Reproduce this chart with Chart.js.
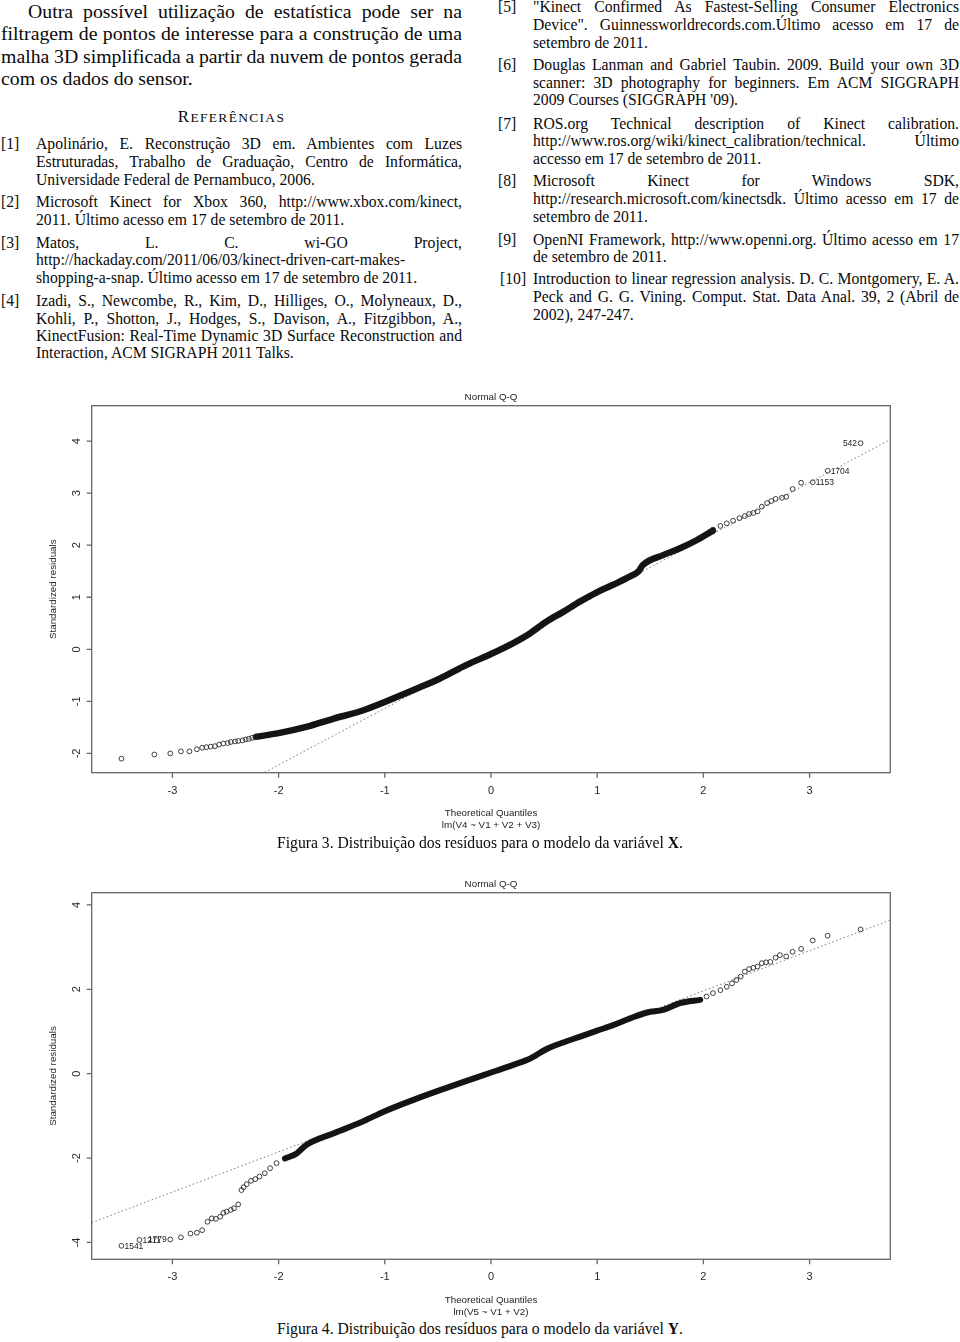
<!DOCTYPE html>
<html>
<head>
<meta charset="utf-8">
<script src="https://cdn.jsdelivr.net/npm/chart.js@4.4.1/dist/chart.umd.min.js"></script>
<style>
  html, body { margin: 0; padding: 0; background: #fff; }
  body { width: 960px; height: 1342px; position: relative; overflow: hidden; }
  .t { position: absolute; font-family: "Liberation Serif", "Times New Roman", serif; color: #0a0a0a; white-space: nowrap; }
  .p { font-size: 19.8px; line-height: 22px; height: 22px; }
  .r { font-size: 15.7px; line-height: 18px; height: 18px; }
  .j { text-align: justify; text-align-last: justify; word-spacing: -2px; }
  .lc { left: 36px; width: 426px; }
  .rc { left: 533px; width: 426px; }
  .cap { left: 0; width: 960px; text-align: center; font-size: 15.7px; line-height: 18px; }
  canvas { position: absolute; left: 0; }
</style>
</head>
<body>

<!-- coluna esquerda -->
<div class="t p j" style="left:28px;width:434px;top:0px">Outra possível utilização de estatística pode ser na</div>
<div class="t p j" style="left:1px;width:461px;top:22px">filtragem de pontos de interesse para a construção de uma</div>
<div class="t p j" style="left:1px;width:461px;top:45px">malha 3D simplificada a partir da nuvem de pontos gerada</div>
<div class="t p" style="left:1px;top:67px">com os dados do sensor.</div>

<div class="t" style="left:0;width:463px;text-align:center;top:107px;font-size:17px;line-height:20px;letter-spacing:1.3px">R<span style="font-size:13.5px">EFERÊNCIAS</span></div>

<div class="t r" style="left:1px;top:135px">[1]</div>
<div class="t r j lc" style="top:135px">Apolinário, E. Reconstrução 3D em. Ambientes com Luzes</div>
<div class="t r j lc" style="top:153px">Estruturadas, Trabalho de Graduação, Centro de Informática,</div>
<div class="t r lc" style="top:171px">Universidade Federal de Pernambuco, 2006.</div>

<div class="t r" style="left:1px;top:193px">[2]</div>
<div class="t r j lc" style="top:193px">Microsoft Kinect for Xbox 360, http://www.xbox.com/kinect,</div>
<div class="t r lc" style="top:211px">2011. Último acesso em 17 de setembro de 2011.</div>

<div class="t r" style="left:1px;top:233.5px">[3]</div>
<div class="t r j lc" style="top:233.5px">Matos, L. C. wi-GO Project,</div>
<div class="t r lc" style="top:250.5px">http://hackaday.com/2011/06/03/kinect-driven-cart-makes-</div>
<div class="t r lc" style="top:268.5px">shopping-a-snap. Último acesso em 17 de setembro de 2011.</div>

<div class="t r" style="left:1px;top:291.5px">[4]</div>
<div class="t r j lc" style="top:291.5px">Izadi, S., Newcombe, R., Kim, D., Hilliges, O., Molyneaux, D.,</div>
<div class="t r j lc" style="top:309.5px">Kohli, P., Shotton, J., Hodges, S., Davison, A., Fitzgibbon, A.,</div>
<div class="t r j lc" style="top:326.5px">KinectFusion: Real-Time Dynamic 3D Surface Reconstruction and</div>
<div class="t r lc" style="top:343.5px">Interaction, ACM SIGRAPH 2011 Talks.</div>

<!-- coluna direita -->
<div class="t r" style="left:498px;top:-2.5px">[5]</div>
<div class="t r j rc" style="top:-2.5px">"Kinect Confirmed As Fastest-Selling Consumer Electronics</div>
<div class="t r j rc" style="top:15.5px">Device". Guinnessworldrecords.com.Último acesso em 17 de</div>
<div class="t r rc" style="top:33.5px">setembro de 2011.</div>

<div class="t r" style="left:498px;top:56px">[6]</div>
<div class="t r j rc" style="top:56px">Douglas Lanman and Gabriel Taubin. 2009. Build your own 3D</div>
<div class="t r j rc" style="top:74px">scanner: 3D photography for beginners. Em ACM SIGGRAPH</div>
<div class="t r rc" style="top:91px">2009 Courses (SIGGRAPH '09).</div>

<div class="t r" style="left:498px;top:114.5px">[7]</div>
<div class="t r j rc" style="top:114.5px">ROS.org Technical description of Kinect calibration.</div>
<div class="t r j rc" style="top:132px">http://www.ros.org/wiki/kinect_calibration/technical. Último</div>
<div class="t r rc" style="top:149.5px">accesso em 17 de setembro de 2011.</div>

<div class="t r" style="left:498px;top:172px">[8]</div>
<div class="t r j rc" style="top:172px">Microsoft Kinect for Windows SDK,</div>
<div class="t r j rc" style="top:190px">http://research.microsoft.com/kinectsdk. Último acesso em 17 de</div>
<div class="t r rc" style="top:208px">setembro de 2011.</div>

<div class="t r" style="left:498px;top:230.5px">[9]</div>
<div class="t r j rc" style="top:230.5px">OpenNI Framework, http://www.openni.org. Último acesso em 17</div>
<div class="t r rc" style="top:248px">de setembro de 2011.</div>

<div class="t r" style="left:500px;top:270px">[10]</div>
<div class="t r j rc" style="top:270px">Introduction to linear regression analysis. D. C. Montgomery, E. A.</div>
<div class="t r j rc" style="top:288px">Peck and G. G. Vining. Comput. Stat. Data Anal. 39, 2 (Abril de</div>
<div class="t r rc" style="top:305.5px">2002), 247-247.</div>

<!-- figuras -->
<canvas id="qqX" width="960" height="450" style="top:385px"></canvas>
<div class="t cap" style="top:833.5px">Figura 3. Distribuição dos resíduos para o modelo da variável <b>X</b>.</div>

<canvas id="qqY" width="960" height="450" style="top:870px"></canvas>
<div class="t cap" style="top:1320px">Figura 4. Distribuição dos resíduos para o modelo da variável <b>Y</b>.</div>

<script>
// ---- dados ----
const xTicks = [-3, -2, -1, 0, 1, 2, 3];
const yTicksX = [-2, -1, 0, 1, 2, 3, 4];
const yTicksY = [-4, -2, 0, 2, 4];

// Figura 3: lm(V4 ~ V1 + V2 + V3)
// faixa densa de pontos (centro da nuvem)
const bandXx = [-2.21, -2.0, -1.74, -1.48, -1.23, -1.0, -0.73, -0.48, -0.23, 0, 0.21, 0.37, 0.52, 0.68, 0.84, 1.0, 1.15, 1.31, 1.39, 1.43, 1.62, 1.78, 1.94, 2.09];
const bandXy = [-1.68, -1.61, -1.49, -1.33, -1.19, -1.01, -0.78, -0.56, -0.30, -0.09, 0.12, 0.31, 0.53, 0.72, 0.92, 1.10, 1.24, 1.40, 1.50, 1.62, 1.81, 1.94, 2.10, 2.28];
// pontos isolados nas caudas
const tailXx = [-3.48, -3.17, -3.02, -2.92, -2.84, -2.77, -2.72, -2.68, -2.64, -2.60, -2.56, -2.52, -2.48, -2.45, -2.41, -2.38, -2.34, -2.31, -2.28, -2.25, -2.22,
                2.09, 2.16, 2.22, 2.28, 2.34, 2.39, 2.43, 2.47, 2.51, 2.55, 2.60, 2.64, 2.68, 2.74, 2.78, 2.84, 2.92, 3.03, 3.17, 3.48];
const tailXy = [-2.10, -2.02, -2.00, -1.96, -1.96, -1.92, -1.89, -1.88, -1.87, -1.86, -1.83, -1.81, -1.80, -1.78, -1.77, -1.76, -1.75, -1.73, -1.72, -1.70, -1.69,
                2.30, 2.37, 2.42, 2.47, 2.52, 2.56, 2.60, 2.62, 2.65, 2.74, 2.81, 2.85, 2.89, 2.91, 2.93, 3.08, 3.20, 3.21, 3.43, 3.96];
const idsX = [{ x: 3.48, y: 3.96, label: '542', side: 'left' }, { x: 3.17, y: 3.43, label: '1704', side: 'right' }, { x: 3.03, y: 3.21, label: '1153', side: 'right' }];
const lineXx = [-3.76, 3.76];
const lineXy = [-4.13, 4.03];

// Figura 4: lm(V5 ~ V1 + V2)
const bandYx = [-1.94, -1.83, -1.74, -1.48, -1.23, -1.0, -0.73, -0.48, -0.23, 0.05, 0.21, 0.37, 0.52, 0.68, 0.84, 1.0, 1.15, 1.31, 1.47, 1.62, 1.78, 1.97];
const bandYy = [-2.01, -1.89, -1.69, -1.41, -1.16, -0.89, -0.62, -0.39, -0.17, 0.07, 0.21, 0.36, 0.58, 0.74, 0.88, 1.02, 1.15, 1.31, 1.45, 1.51, 1.67, 1.75];
const tailYx = [-3.48, -3.31, -3.02, -2.92, -2.83, -2.77, -2.72, -2.67, -2.63, -2.59, -2.55, -2.52, -2.49, -2.45, -2.42, -2.38, -2.35, -2.33, -2.30, -2.26, -2.22, -2.18, -2.13, -2.08, -2.02,
                2.03, 2.09, 2.16, 2.22, 2.27, 2.31, 2.35, 2.39, 2.43, 2.47, 2.51, 2.55, 2.59, 2.63, 2.68, 2.72, 2.78, 2.84, 2.92, 3.03, 3.17, 3.48];
const tailYy = [-4.08, -3.94, -3.93, -3.88, -3.79, -3.77, -3.71, -3.51, -3.43, -3.44, -3.39, -3.30, -3.27, -3.23, -3.19, -3.10, -2.76, -2.69, -2.62, -2.54, -2.50, -2.44, -2.36, -2.24, -2.12,
                1.83, 1.91, 1.98, 2.06, 2.14, 2.22, 2.30, 2.42, 2.48, 2.51, 2.54, 2.62, 2.64, 2.65, 2.75, 2.81, 2.78, 2.89, 2.96, 3.16, 3.27, 3.42];
const idsY = [{ x: -3.48, y: -4.08, label: '1541', side: 'right' }, { x: -3.31, y: -3.94, label: '1211', side: 'right' }, { x: -3.02, y: -3.93, label: '1779', side: 'left' }];
const lineYx = [-3.76, 3.76];
const lineYy = [-3.53, 3.64];

const SANS = '"Liberation Sans", Arial, sans-serif';
const zip = (xs, ys) => xs.map((x, i) => ({ x, y: ys[i] }));

// moldura estilo R: caixa, marcas, rótulos e títulos
const rFrame = {
    id: 'rFrame',
    beforeDatasetsDraw(chart, args, opts) {
        const { ctx, chartArea: a, scales: { x, y } } = chart;
        ctx.save();
        ctx.strokeStyle = '#666';
        ctx.lineWidth = 1.3;
        ctx.strokeRect(a.left, a.top, a.right - a.left, a.bottom - a.top);

        ctx.beginPath();
        xTicks.forEach(v => {
            const px = x.getPixelForValue(v);
            ctx.moveTo(px, a.bottom); ctx.lineTo(px, a.bottom + 5);
        });
        opts.yTicks.forEach(v => {
            const py = y.getPixelForValue(v);
            ctx.moveTo(a.left, py); ctx.lineTo(a.left - 5, py);
        });
        ctx.stroke();

        ctx.fillStyle = '#2a2a2a';
        ctx.textAlign = 'center';
        ctx.textBaseline = 'middle';
        ctx.font = '11px ' + SANS;
        xTicks.forEach(v => ctx.fillText(String(v), x.getPixelForValue(v), a.bottom + 18));
        opts.yTicks.forEach(v => {
            ctx.save();
            ctx.translate(a.left - 14.5, y.getPixelForValue(v));
            ctx.rotate(-Math.PI / 2);
            ctx.fillText(String(v), 0, 0);
            ctx.restore();
        });

        ctx.fillStyle = '#1e1e1e';
        ctx.font = '9.8px ' + SANS;
        const cx = (a.left + a.right) / 2;
        ctx.fillText('Normal Q-Q', cx, a.top - 8);
        ctx.fillText('Theoretical Quantiles', cx, a.bottom + 41);
        ctx.fillText(opts.model, cx, a.bottom + 53);
        ctx.save();
        ctx.translate(a.left - 38.4, (a.top + a.bottom) / 2);
        ctx.rotate(-Math.PI / 2);
        ctx.fillText('Standardized residuals', 0, 0);
        ctx.restore();
        ctx.restore();
    },
    afterDatasetsDraw(chart, args, opts) {
        const { ctx, scales: { x, y } } = chart;
        ctx.save();
        ctx.fillStyle = '#222';
        ctx.font = '8.5px ' + SANS;
        ctx.textBaseline = 'middle';
        opts.ids.forEach(p => {
            const px = x.getPixelForValue(p.x);
            const py = y.getPixelForValue(p.y);
            ctx.textAlign = p.side === 'left' ? 'right' : 'left';
            ctx.fillText(p.label, p.side === 'left' ? px - 3.5 : px + 3, py + 0.5);
        });
        ctx.restore();
    }
};

function drawQQ(id, cfg) {
    const ctx = document.getElementById(id).getContext('2d');
    return new Chart(ctx, {
        type: 'scatter',
        data: {
            datasets: [
                {
                    type: 'scatter',
                    data: zip(cfg.tailX, cfg.tailY),
                    pointRadius: 2.4,
                    pointStyle: 'circle',
                    backgroundColor: 'rgba(0,0,0,0)',
                    borderColor: '#2a2a2a',
                    borderWidth: 0.9,
                    order: 1,
                },
                {
                    type: 'line',
                    data: zip(cfg.bandX, cfg.bandY),
                    borderColor: '#141414',
                    borderWidth: cfg.bandWidth,
                    borderCapStyle: 'round',
                    borderJoinStyle: 'round',
                    cubicInterpolationMode: 'monotone',
                    pointRadius: 0,
                    fill: false,
                    order: 2,
                },
                {
                    type: 'line',
                    data: zip(cfg.lineX, cfg.lineY),
                    borderColor: '#777',
                    borderWidth: 1,
                    borderDash: [1.5, 2.5],
                    pointRadius: 0,
                    fill: false,
                    clip: 0,
                    order: 3,
                },
            ],
        },
        options: {
            responsive: false,
            animation: false,
            events: [],
            layout: { padding: cfg.padding },
            plugins: {
                legend: { display: false },
                tooltip: { enabled: false },
                rFrame: { yTicks: cfg.yTicks, model: cfg.model, ids: cfg.ids },
            },
            scales: {
                x: { type: 'linear', display: false, min: -3.76, max: 3.76 },
                y: { type: 'linear', display: false, min: cfg.yMin, max: cfg.yMax },
            },
        },
        plugins: [rFrame],
    });
}

drawQQ('qqX', {
    bandX: bandXx, bandY: bandXy, tailX: tailXx, tailY: tailXy, lineX: lineXx, lineY: lineXy,
    ids: idsX, yTicks: yTicksX, yMin: -2.37, yMax: 4.68, bandWidth: 6.5,
    model: 'lm(V4 ~ V1 + V2 + V3)',
    padding: { left: 91.7, top: 20.7, right: 69.7, bottom: 62.3 },
});

drawQQ('qqY', {
    bandX: bandYx, bandY: bandYy, tailX: tailYx, tailY: tailYy, lineX: lineYx, lineY: lineYy,
    ids: idsY, yTicks: yTicksY, yMin: -4.40, yMax: 4.29, bandWidth: 6,
    model: 'lm(V5 ~ V1 + V2)',
    padding: { left: 91.7, top: 22.7, right: 69.7, bottom: 60.7 },
});
</script>
</body>
</html>
